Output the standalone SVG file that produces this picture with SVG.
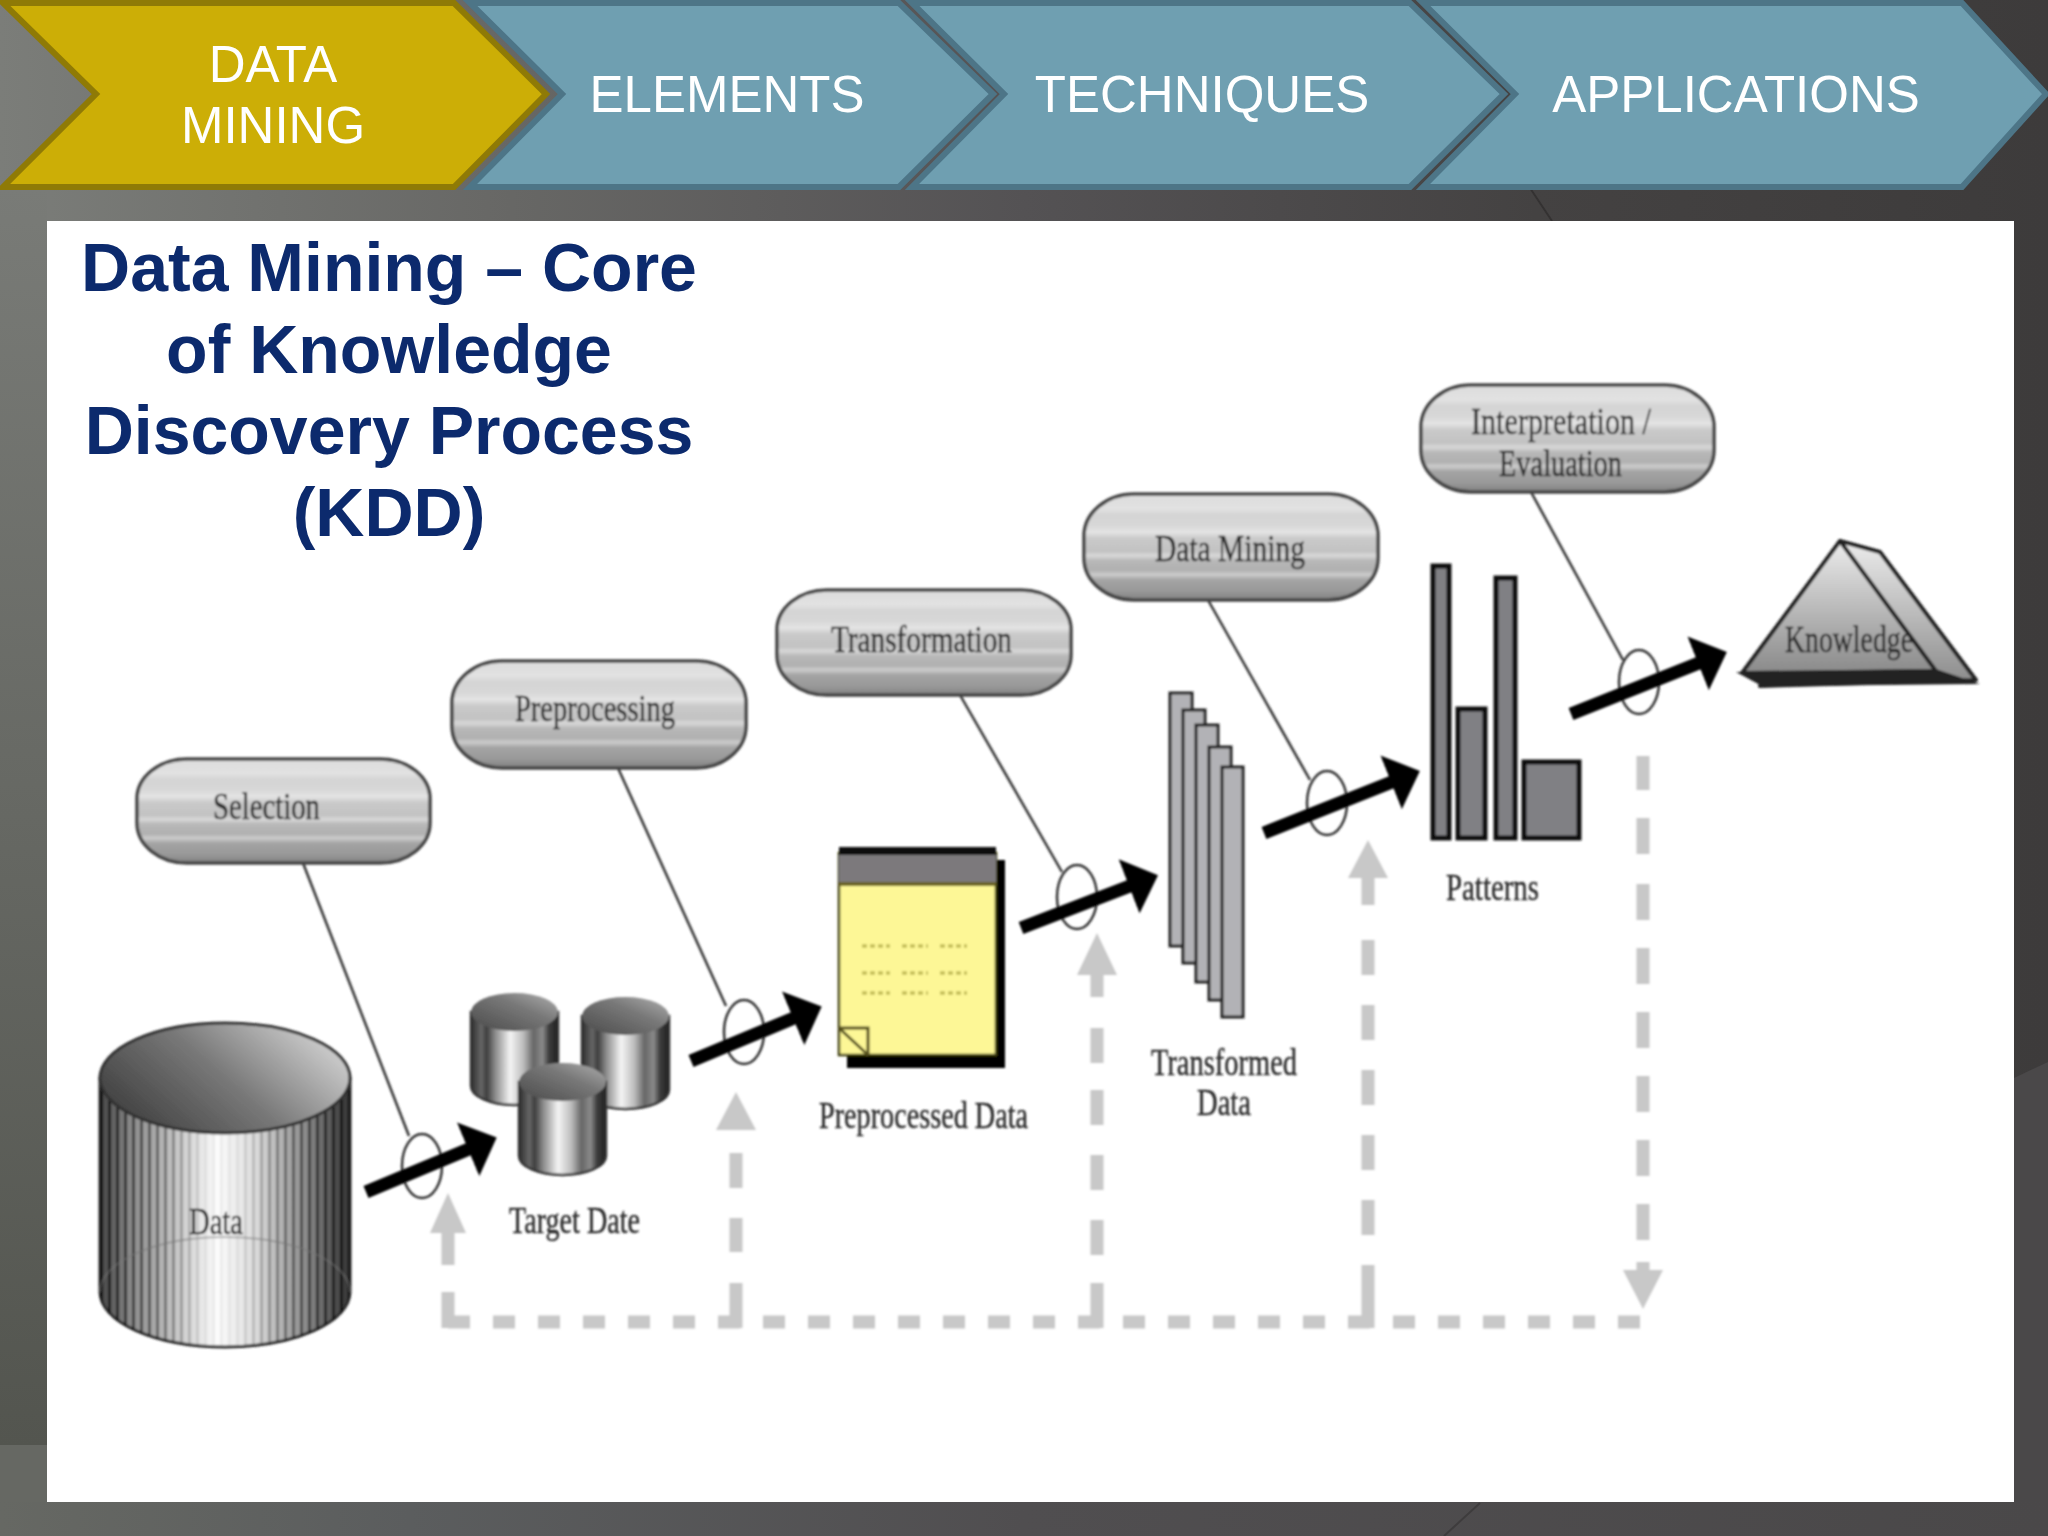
<svg xmlns="http://www.w3.org/2000/svg" xmlns:xlink="http://www.w3.org/1999/xlink" width="2048" height="1536" viewBox="0 0 2048 1536">
<style>
.gold{fill:#ccae06;stroke:#8f7a06;stroke-width:6}
.teal{fill:#6f9fb1;stroke:#4d7587;stroke-width:6}
.hd{font-family:"Liberation Sans",Arial,sans-serif;font-size:51px;fill:#fff;text-anchor:middle}
.title{font-family:"Liberation Sans",Arial,sans-serif;font-size:68px;font-weight:bold;fill:#0c2a6d;text-anchor:middle}
.lb{font-family:"Liberation Serif","Times New Roman",serif;font-size:38px;fill:#2a2a2a;stroke:#2a2a2a;stroke-width:.4}
.pill{fill:url(#pillG);stroke:#444;stroke-width:3.5}
.lead{stroke:#333;stroke-width:2.5;fill:none}
.ring{fill:none;stroke:#333;stroke-width:2.5}
.flow{stroke:#000;stroke-width:13;fill:none;marker-end:url(#blackHead)}
.fb{stroke:#c8c8c8;stroke-width:13;fill:none}
.fbh{fill:#c8c8c8}
.bar{fill:#808084;stroke:#111;stroke-width:5}
.lay{fill:#b2b2b6;stroke:#222;stroke-width:3}
</style>
<defs>
<linearGradient id="topBand" x1="0" x2="1" y1="0" y2="0"><stop offset="0" stop-color="#7b7d79"/><stop offset=".25" stop-color="#676765"/><stop offset=".5" stop-color="#545254"/><stop offset=".75" stop-color="#444242"/><stop offset="1" stop-color="#3d3b3b"/></linearGradient>
<linearGradient id="leftBand" x1="0" x2="0" y1="0" y2="1"><stop offset="0" stop-color="#797b77"/><stop offset="1" stop-color="#53554f"/></linearGradient>
<linearGradient id="botBand" x1="0" x2="1" y1="0" y2="0"><stop offset="0" stop-color="#666863"/><stop offset=".2" stop-color="#5b5d5e"/><stop offset=".5" stop-color="#504e50"/><stop offset="1" stop-color="#4a4849"/></linearGradient>
<linearGradient id="pillG" x1="0" x2="0" y1="0" y2="1">
<stop offset="0" stop-color="#dcdcdc"/><stop offset=".14" stop-color="#e2e2e2"/><stop offset=".2" stop-color="#d4d4d4"/><stop offset=".3" stop-color="#d8d8d8"/><stop offset=".36" stop-color="#e4e4e4"/><stop offset=".42" stop-color="#cacaca"/><stop offset=".54" stop-color="#c2c2c2"/><stop offset=".58" stop-color="#d8d8d8"/><stop offset=".63" stop-color="#b8b8b8"/><stop offset=".72" stop-color="#b0b0b0"/><stop offset=".76" stop-color="#cccccc"/><stop offset=".81" stop-color="#a4a4a4"/><stop offset=".92" stop-color="#989898"/><stop offset="1" stop-color="#808080"/>
</linearGradient>
<linearGradient id="cylBody" x1="0" x2="1" y1="0" y2="0"><stop offset="0" stop-color="#444"/><stop offset=".12" stop-color="#888"/><stop offset=".3" stop-color="#c4c4c4"/><stop offset=".47" stop-color="#fcfcfc"/><stop offset=".62" stop-color="#dcdcdc"/><stop offset=".82" stop-color="#8c8c8c"/><stop offset="1" stop-color="#333"/></linearGradient>
<linearGradient id="cylTop" x1="0" x2="1" y1=".75" y2=".25"><stop offset="0" stop-color="#3e3e3e"/><stop offset=".5" stop-color="#787878"/><stop offset="1" stop-color="#d4d4d4"/></linearGradient>
<linearGradient id="drumBody" x1="0" x2="1" y1="0" y2="0"><stop offset="0" stop-color="#2e2e2e"/><stop offset=".12" stop-color="#666"/><stop offset=".18" stop-color="#3e3e3e"/><stop offset=".28" stop-color="#8c8c8c"/><stop offset=".45" stop-color="#f4f4f4"/><stop offset=".6" stop-color="#bdbdbd"/><stop offset=".72" stop-color="#666"/><stop offset=".82" stop-color="#8a8a8a"/><stop offset=".9" stop-color="#3a3a3a"/><stop offset="1" stop-color="#222"/></linearGradient>
<linearGradient id="drumTop" x1="0" x2="1" y1="1" y2="0"><stop offset="0" stop-color="#4a4a4a"/><stop offset=".6" stop-color="#787878"/><stop offset="1" stop-color="#b0b0b0"/></linearGradient>
<linearGradient id="pyr" x1="0" x2="0" y1="0" y2="1"><stop offset="0" stop-color="#ececec"/><stop offset="1" stop-color="#8a8a8a"/></linearGradient>
<linearGradient id="edgeFade" gradientUnits="userSpaceOnUse" x1="100" x2="350" y1="0" y2="0"><stop offset="0" stop-color="#fff"/><stop offset=".25" stop-color="#888"/><stop offset=".42" stop-color="#111"/><stop offset=".55" stop-color="#111"/><stop offset=".75" stop-color="#888"/><stop offset="1" stop-color="#fff"/></linearGradient>
<pattern id="stripes" patternUnits="userSpaceOnUse" width="8" height="10" x="100" y="0"><rect width="3" height="10" fill="#000" opacity=".7"/></pattern>
<mask id="edgeMask" maskUnits="userSpaceOnUse" x="90" y="1000" width="270" height="360"><rect x="90" y="1000" width="270" height="360" fill="url(#edgeFade)"/></mask>
<marker id="blackHead" markerUnits="userSpaceOnUse" markerWidth="34" markerHeight="62" viewBox="0 -31 34 62" refX="1" refY="0" orient="auto"><path d="M0,-29 L31,0 L0,29 z" fill="#000"/></marker>
<g id="drum">
<path d="M0,19 V93 A43.5,19 0 0 0 87,93 V19 z" fill="url(#drumBody)" stroke="#333" stroke-width="2.5"/>
<ellipse cx="43.5" cy="19" rx="43.5" ry="19" fill="url(#drumTop)"/>
</g>
<filter id="soft" x="-2%" y="-2%" width="104%" height="104%"><feGaussianBlur stdDeviation="0.9"/></filter>
</defs>

<g id="background">
<rect width="2048" height="1536" fill="url(#topBand)"/>
<rect x="0" y="188" width="47" height="1257" fill="url(#leftBand)"/>
<rect x="0" y="1445" width="47" height="91" fill="#666863"/>
<rect x="0" y="1502" width="2048" height="34" fill="url(#botBand)"/>
<path d="M2014,1078 L2048,1062 V1502 H2014 z" fill="#4a4849"/>
<path d="M1480,1503 L1444,1536" stroke="#3e3c3d" stroke-width="2" fill="none"/>
<path d="M1530,188 L1552,221" stroke="#343232" stroke-width="2" fill="none"/>
<rect x="47" y="221" width="1967" height="1281" fill="#fff"/>
</g>

<g id="step-data-mining">
<path class="gold" d="M3,3 H454 L546,94 454,187 H3 L96,94 z"/>
<text class="hd" x="273" y="82">DATA</text>
<text class="hd" x="273" y="143">MINING</text>
</g>
<g id="step-elements">
<path class="teal" d="M470,3 H899 L993,94 899,187 H470 L562,94 z"/>
<text class="hd" x="727" y="112">ELEMENTS</text>
</g>
<g id="step-techniques">
<path class="teal" d="M912,3 H1410 L1504,94 1410,187 H912 L1004,94 z"/>
<text class="hd" x="1202" y="112">TECHNIQUES</text>
</g>
<g id="step-applications">
<path class="teal" d="M1423,3 H1962 L2046,94 1962,187 H1423 L1515,94 z"/>
<text class="hd" x="1736" y="112">APPLICATIONS</text>
</g>

<g id="title">
<text class="title" x="389" y="291">Data Mining – Core</text>
<text class="title" x="389" y="373">of Knowledge</text>
<text class="title" x="389" y="454">Discovery Process</text>
<text class="title" x="389" y="536">(KDD)</text>
</g>

<g id="diagram" filter="url(#soft)">
<g id="connectors">
<path class="lead" d="M303,863 L409,1136"/>
<path class="lead" d="M618,768 L726,1006"/>
<path class="lead" d="M960,695 L1062,872"/>
<path class="lead" d="M1208,600 L1310,780"/>
<path class="lead" d="M1531,492 L1623,660"/>
<ellipse class="ring" cx="422" cy="1166" rx="20" ry="32"/>
<ellipse class="ring" cx="744" cy="1032" rx="20" ry="32"/>
<ellipse class="ring" cx="1077" cy="897" rx="20" ry="32"/>
<ellipse class="ring" cx="1327" cy="803" rx="20" ry="32"/>
<ellipse class="ring" cx="1639" cy="682" rx="20" ry="32"/>
<path class="flow" d="M366,1192 L469,1149"/>
<path class="flow" d="M691,1061 L794,1018"/>
<path class="flow" d="M1021,928 L1130,886"/>
<path class="flow" d="M1264,833 L1392,782"/>
<path class="flow" d="M1571,714 L1699,663"/>
<path class="fb" stroke-dasharray="22 23" d="M448,1322 H1650"/>
<path class="fb" d="M448,1233 V1265 M448,1292 V1328"/>
<path class="fb" d="M736,1153 V1188 M736,1218 V1252 M736,1283 V1328"/>
<path class="fb" d="M1097,975 V997 M1097,1028 V1063 M1097,1090 V1125 M1097,1155 V1190 M1097,1220 V1255 M1097,1283 V1328"/>
<path class="fb" d="M1368,878 V905 M1368,940 V975 M1368,1005 V1040 M1368,1070 V1105 M1368,1135 V1170 M1368,1200 V1235 M1368,1265 V1328"/>
<path class="fb" d="M1643,756 V790 M1643,818 V854 M1643,884 V920 M1643,948 V984 M1643,1012 V1048 M1643,1076 V1112 M1643,1140 V1176 M1643,1204 V1240 M1643,1262 V1272"/>
<path class="fbh" d="M448,1193 L466,1233 H430 z"/>
<path class="fbh" d="M736,1092 L756,1130 H716 z"/>
<path class="fbh" d="M1097,933 L1117,975 H1077 z"/>
<path class="fbh" d="M1368,840 L1388,878 H1348 z"/>
<path class="fbh" d="M1643,1309 L1623,1270 H1663 z"/>
</g>

<g id="node-selection"><rect class="pill" x="137" y="759" width="293" height="104" rx="50" ry="40"/><text class="lb" x="213" y="819" textLength="107" lengthAdjust="spacingAndGlyphs">Selection</text></g>
<g id="node-preprocessing"><rect class="pill" x="452" y="661" width="294" height="107" rx="50" ry="42"/><text class="lb" x="515" y="721" textLength="160" lengthAdjust="spacingAndGlyphs">Preprocessing</text></g>
<g id="node-transformation"><rect class="pill" x="777" y="590" width="294" height="105" rx="50" ry="40"/><text class="lb" x="831" y="652" textLength="181" lengthAdjust="spacingAndGlyphs">Transformation</text></g>
<g id="node-data-mining"><rect class="pill" x="1084" y="494" width="294" height="106" rx="50" ry="42"/><text class="lb" x="1155" y="561" textLength="150" lengthAdjust="spacingAndGlyphs">Data Mining</text></g>
<g id="node-interpretation"><rect class="pill" x="1421" y="385" width="293" height="107" rx="50" ry="42"/><text class="lb" x="1471" y="434" textLength="180" lengthAdjust="spacingAndGlyphs">Interpretation /</text><text class="lb" x="1499" y="476" textLength="123" lengthAdjust="spacingAndGlyphs">Evaluation</text></g>

<g id="node-data">
<path d="M100,1078 V1292 A125,55 0 0 0 350,1292 V1078 z" fill="url(#cylBody)" stroke="#2e2e2e" stroke-width="3"/>
<path d="M100,1078 V1292 A125,55 0 0 0 350,1292 V1078 z" fill="url(#stripes)" mask="url(#edgeMask)"/>
<ellipse cx="225" cy="1078" rx="125" ry="55" fill="url(#cylTop)" stroke="#333" stroke-width="3"/>
<path d="M100,1292 A125,55 0 0 1 350,1292" fill="none" stroke="#777" stroke-width="2" opacity=".5"/>
<text class="lb" x="189" y="1234" textLength="54" lengthAdjust="spacingAndGlyphs">Data</text>
</g>

<g id="node-target-date">
<use xlink:href="#drum" href="#drum" x="471" y="993"/>
<use xlink:href="#drum" href="#drum" x="582" y="997"/>
<use xlink:href="#drum" href="#drum" x="519" y="1063"/>
<text class="lb" x="509" y="1233" textLength="131" lengthAdjust="spacingAndGlyphs">Target Date</text>
</g>

<g id="node-preprocessed-data">
<rect x="847" y="860" width="158" height="208" fill="#000"/>
<rect x="839" y="853" width="157" height="202" fill="#fdf796" stroke="#3a3a10" stroke-width="2.5"/>
<rect x="839" y="847" width="157" height="8" fill="#111"/>
<rect x="839" y="855" width="157" height="27" fill="#7b797c"/>
<rect x="839" y="882" width="157" height="4" fill="#6a6420"/>
<path d="M862,946 H890 M902,946 H928 M940,946 H967 M862,973 H890 M902,973 H928 M940,973 H967 M862,993 H890 M902,993 H928 M940,993 H967" stroke="#c4bd58" stroke-width="3.5" stroke-dasharray="5 3" fill="none"/>
<path d="M839,1028 H868 V1055 M839,1028 L868,1055" fill="none" stroke="#55501a" stroke-width="3"/>
<text class="lb" x="819" y="1128" textLength="209" lengthAdjust="spacingAndGlyphs">Preprocessed Data</text>
</g>

<g id="node-transformed-data">
<rect class="lay" x="1170" y="693" width="22" height="253"/>
<rect class="lay" x="1183" y="710" width="22" height="253"/>
<rect class="lay" x="1196" y="725" width="22" height="257"/>
<rect class="lay" x="1209" y="747" width="22" height="253"/>
<rect class="lay" x="1222" y="767" width="21" height="250"/>
<text class="lb" x="1151" y="1075" textLength="146" lengthAdjust="spacingAndGlyphs">Transformed</text>
<text class="lb" x="1197" y="1115" textLength="54" lengthAdjust="spacingAndGlyphs">Data</text>
</g>

<g id="node-patterns">
<rect class="bar" x="1433" y="566" width="16" height="272"/>
<rect class="bar" x="1458" y="709" width="27" height="129"/>
<rect class="bar" x="1496" y="578" width="19" height="260"/>
<rect class="bar" x="1524" y="762" width="55" height="76"/>
<text class="lb" x="1446" y="900" textLength="93" lengthAdjust="spacingAndGlyphs">Patterns</text>
</g>

<g id="node-knowledge">
<path d="M1840,541 L1880,552 L1976,680 L1760,686 z" fill="url(#pyr)" stroke="#222" stroke-width="4" stroke-linejoin="round"/>
<path d="M1840,541 L1742,673 L1936,671 z" fill="url(#pyr)" stroke="#222" stroke-width="4" stroke-linejoin="round"/>
<path d="M1736,672 L1936,669 L1980,684 L1762,686 z" fill="#222"/>
<text class="lb" x="1785" y="652" textLength="128" lengthAdjust="spacingAndGlyphs">Knowledge</text>
</g>
</g>
</svg>
